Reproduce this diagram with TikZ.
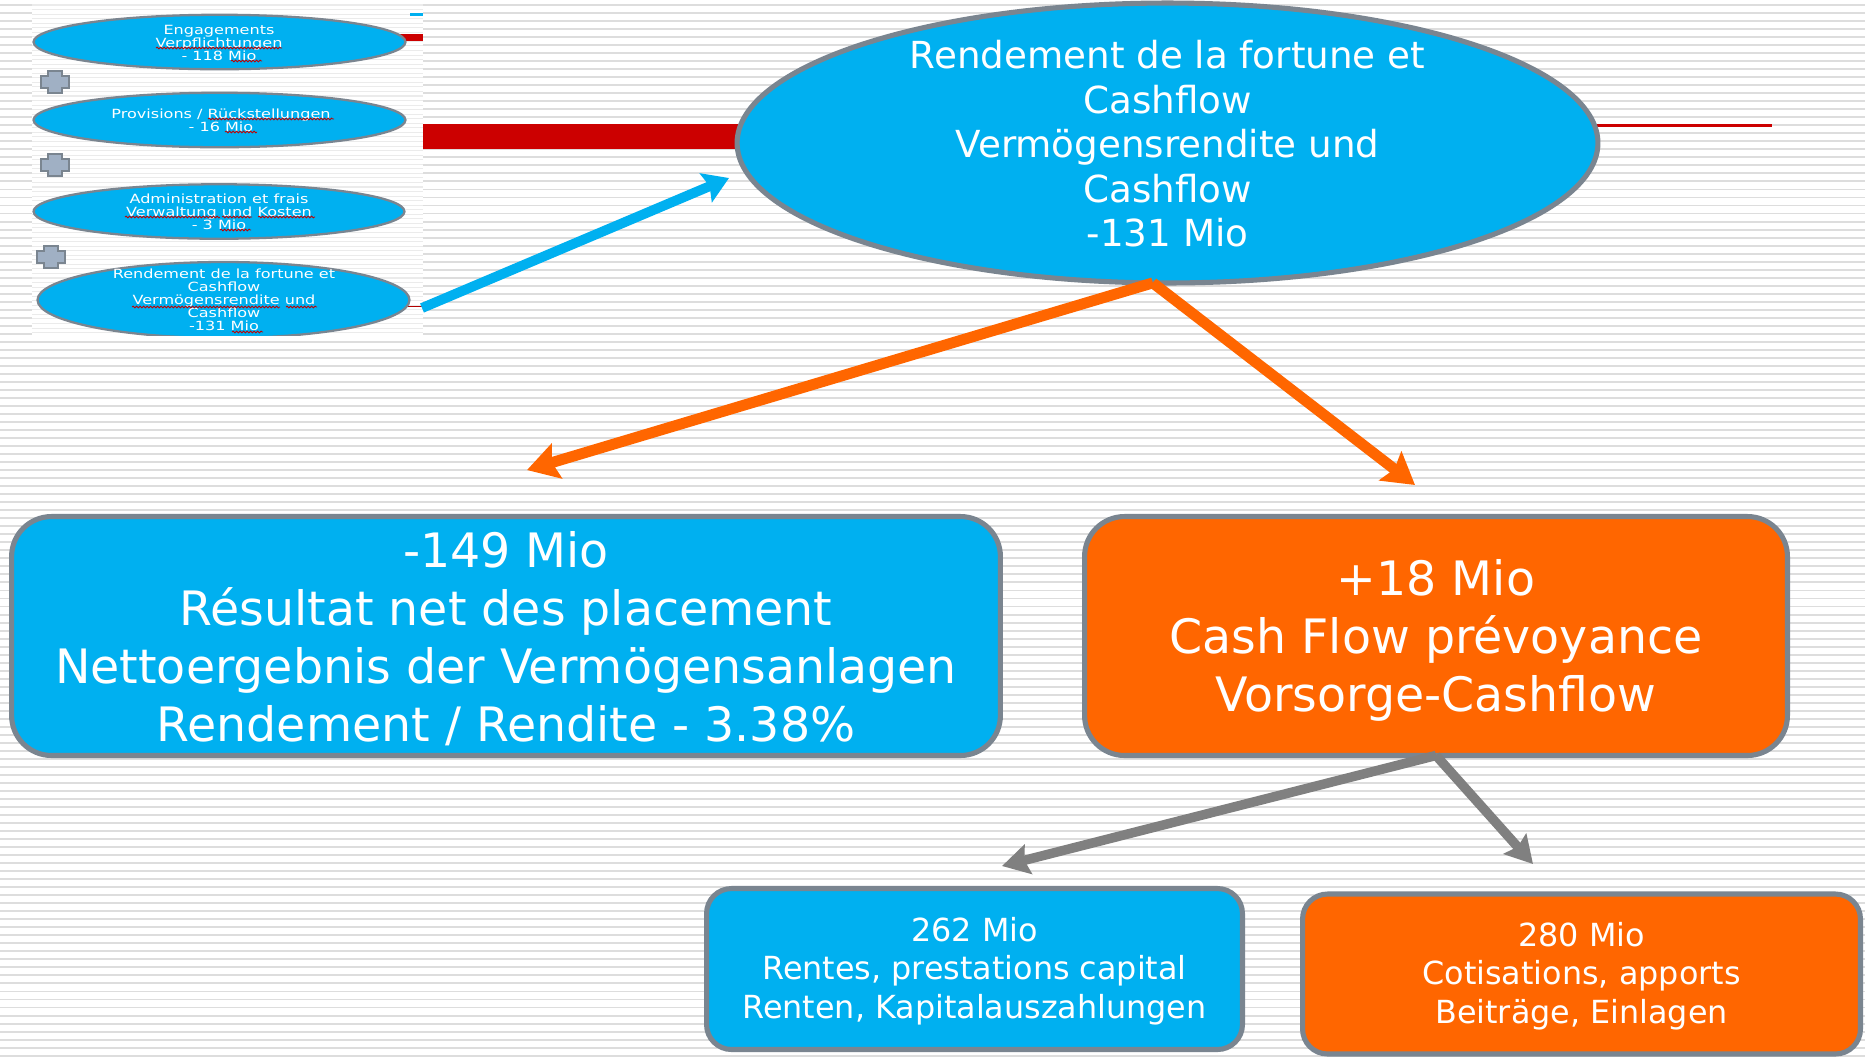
\documentclass[tikz,border=0pt]{standalone}
\usepackage{fontspec}
\setmainfont{DejaVu Sans}
\usetikzlibrary{arrows.meta,decorations.pathmorphing,shapes.geometric}
\definecolor{skyb}{HTML}{00B0F0}
\definecolor{orng}{HTML}{FF6600}
\definecolor{edgeg}{HTML}{7A8590}
\definecolor{redb}{HTML}{CC0000}
\definecolor{stripe}{HTML}{DDDDDD}
\definecolor{plusf}{HTML}{A0B0C4}
\newcommand{\fs}[2]{\fontsize{#1}{#2}\selectfont}
\newcommand{\dn}[1]{\rule{0pt}{#1}}
\tikzset{
  x=0.02cm,y=-0.02cm,
  bigell/.style={shape=ellipse,draw=edgeg,line width=2.9pt,fill=skyb,inner sep=0pt,outer sep=0pt},
  bigtxt/.style={text=white,align=center,inner sep=0pt,font=\fs{21.2}{25.4}},
  thumbell/.style={shape=ellipse,draw=edgeg,line width=1.3pt,fill=skyb,inner sep=0pt,outer sep=0pt,minimum width=7.44cm,minimum height=1.09cm},
  thumbtxt/.style={text=white,align=center,inner sep=0pt,font=\fs{7.2}{7.45},xscale=1.27},
  box/.style={draw=edgeg,line width=2.9pt,rounded corners=0.8cm,text=white,inner sep=0pt,outer sep=0pt,align=center},
  org/.style={line width=6.2pt,draw=orng,-{Stealth[length=0.62cm,width=0.72cm,inset=0.1cm]}},
  gry/.style={line width=5.4pt,draw=black!50,-{Stealth[length=0.54cm,width=0.6cm,inset=0.08cm]}},
  blu/.style={line width=5.6pt,draw=skyb,-{Stealth[length=0.5cm,width=0.62cm,inset=0.08cm]}},
  squig/.style={draw=red!75!black,line width=0.45pt,decorate,decoration={snake,segment length=0.07cm,amplitude=0.018cm}},
  plusmark/.pic={\draw[fill=plusf,draw=edgeg,line width=1.5pt] (-14,-6)--(-7,-6)--(-7,-11)--(7,-11)--(7,-6)--(14,-6)--(14,6)--(7,6)--(7,11)--(-7,11)--(-7,6)--(-14,6)--cycle;}
}
\begin{document}
\begin{tikzpicture}
\useasboundingbox (0,0) rectangle (1865,1056);
\fill[white] (0,0) rectangle (1865,1056);
\foreach \k in {0,...,131} {
  \draw[stripe,line width=1.1pt] (0,{5+8.02*\k}) -- (1865,{5+8.02*\k});
}
% thumbnail panel
\fill[white] (32,3) rectangle (423,335);
\foreach \k in {0,...,72} {
  \draw[black!8,line width=0.6pt] (32,{5+4.55*\k}) -- (423,{5+4.55*\k});
}
\fill[redb] (400,34) rectangle (423,41);
\fill[skyb] (410,13) rectangle (423,16);
\draw[red!70!black,line width=0.4pt] (405,306) -- (423,306);
\node[thumbell] (t1) at (219.5,42) {};
\node[thumbell] (t2) at (219.5,120) {};
\node[thumbell,minimum width=7.42cm] (t3) at (219,211.5) {};
\begin{scope}
\clip (32,3) rectangle (423,335);
\node[thumbell,minimum height=1.52cm] (t4) at (223.5,300) {};
\end{scope}
\node[thumbtxt] (tx1) at (219,43) {Engagements\\Verpflichtungen\\- 118 Mio};
\node[thumbtxt] (tx2) at (221,120) {Provisions / Rückstellungen\\- 16 Mio};
\node[thumbtxt] (tx3) at (219,212) {Administration et frais\\Verwaltung und Kosten\\- 3 Mio};
\node[thumbtxt] (tx4) at (224,300) {Rendement de la fortune et\\Cashflow\\Vermögensrendite und\\Cashflow\\-131 Mio};
\draw[squig] (156,48)--(282,48);
\draw[squig] (231,61)--(262,61);
\draw[squig] (208,119)--(334,119);
\draw[squig] (225,132)--(257,132);
\draw[squig] (125,217)--(220,217);
\draw[squig] (222,217)--(252,217);
\draw[squig] (258,217)--(315,217);
\draw[squig] (220,230)--(251,230);
\draw[squig] (132,307)--(280,307);
\draw[squig] (286,307)--(317,307);
\draw[squig] (232,332)--(263,332);
\pic at (55,82) {plusmark};
\pic at (55,165) {plusmark};
\pic at (51,257) {plusmark};
% red bars behind the big ellipse
\fill[redb] (423,124) rectangle (760,149);
\draw[redb,line width=1.7pt] (1580,125) -- (1772,125);
% big ellipse
\node[bigell,minimum width=17.22cm,minimum height=5.6cm] (big) at (1167.5,143) {};
\node[bigtxt] (bigt) at (big.center)
  {\dn{17pt}Rendement de la fortune et\\Cashflow\\Vermögensrendite und\\Cashflow\\-131 Mio};
% boxes
\node[box,fill=skyb,minimum width=19.78cm,minimum height=4.78cm,font=\fs{27}{33}] (b1) at (506,636)
  {\dn{24pt}-149 Mio\\Résultat net des placement\\Nettoergebnis der Vermögensanlagen\\Rendement / Rendite - 3.38\%};
\node[box,fill=orng,minimum width=14.06cm,minimum height=4.78cm,font=\fs{27}{33}] (b2) at (1436,636)
  {\dn{26pt}+18 Mio\\Cash Flow prévoyance\\Vorsorge-Cashflow};
\node[box,fill=skyb,minimum width=10.72cm,minimum height=3.22cm,rounded corners=0.5cm,font=\fs{18.1}{21.9}] (b3) at (974.5,969)
  {\dn{16pt}262 Mio\\Rentes, prestations capital\\Renten, Kapitalauszahlungen};
\node[box,fill=orng,minimum width=11.16cm,minimum height=3.2cm,rounded corners=0.5cm,font=\fs{18.1}{21.9}] (b4) at (1581.5,974)
  {\dn{16pt}280 Mio\\Cotisations, apports\\Beiträge, Einlagen};
% connectors
\coordinate (ba) at (422,308);
\coordinate (bb) at (729,178);
\coordinate (oa) at (527,470);
\coordinate (ob) at (1415,485);
\coordinate (ga) at (1002,866);
\coordinate (gb) at (1533,864);
\draw[blu] (ba) -- (bb);
\draw[org] (big.264) -- (oa);
\draw[org] (big.264) -- (ob);
\draw[gry] (b2.south) -- (ga);
\draw[gry] (b2.south) -- (gb);
\end{tikzpicture}
\end{document}
